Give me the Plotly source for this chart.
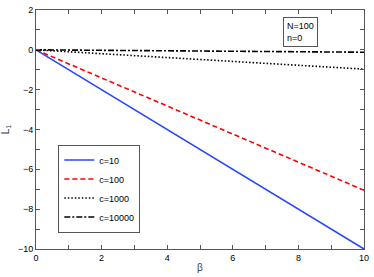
import plotly.graph_objects as go

beta = [0, 10]
series_names = ["c=10", "c=100", "c=1000", "c=10000"]
L1_c10 = [0, -10]
L1_c100 = [0, -7.05]
L1_c1000 = [0, -0.97]
L1_c10000 = [0, -0.12]

x_tick_vals = [0, 2, 4, 6, 8, 10]
y_tick_vals = [2, 0, -2, -4, -6, -8, -10]

FONT = "Liberation Sans, Arial, sans-serif"

styles = [
    dict(color="#2846ff", width=1.6, dash="solid"),
    dict(color="#ff0000", width=1.6, dash="5px,3px"),
    dict(color="#000000", width=1.6, dash="1.5px,2px"),
    dict(color="#000000", width=1.6, dash="6px,2px,2px,2px"),
]

fig = go.Figure()
for name, ys, st in zip(series_names, [L1_c10, L1_c100, L1_c1000, L1_c10000], styles):
    fig.add_trace(go.Scatter(x=beta, y=ys, mode="lines", name=name, line=st))

axis_common = dict(
    showgrid=False, zeroline=False, showline=True, linecolor="#555555", linewidth=1,
    mirror="ticks", ticks="inside", ticklen=4, tickcolor="#555555",
    tickfont=dict(family=FONT, size=9, color="#000"),
)

fig.update_xaxes(range=[0, 10], tickvals=x_tick_vals,
                 minor=dict(dtick=1, ticks="inside", ticklen=4, tickcolor="#555555"),
                 title=dict(text="β", font=dict(family=FONT, size=10), standoff=2),
                 **axis_common)
fig.update_yaxes(range=[-10, 2], tickvals=y_tick_vals,
                 minor=dict(dtick=1, ticks="inside", ticklen=4, tickcolor="#555555"),
                 title=dict(text="L<sub>1</sub>", font=dict(family=FONT, size=10), standoff=6),
                 **axis_common)

fig.add_annotation(x=0.752, y=0.972, xref="paper", yref="paper", xanchor="left", yanchor="top",
                   text="N=100<br>n=0", showarrow=False, align="left",
                   font=dict(family=FONT, size=9, color="#000"),
                   bordercolor="#555555", borderwidth=1, borderpad=3, bgcolor="white")

fig.update_layout(
    width=374, height=277,
    margin=dict(l=33, r=5, t=5, b=20),
    plot_bgcolor="white", paper_bgcolor="white",
    legend=dict(x=0.068, y=0.437, xanchor="left", yanchor="top",
                bordercolor="#555555", borderwidth=1, bgcolor="white",
                font=dict(family=FONT, size=9, color="#000"),
                tracegroupgap=0, itemwidth=30),
    showlegend=True,
)

fig.write_html("out.html", config={"displayModeBar": False},
               post_script="document.body.style.margin='0';document.body.style.padding='0';")
